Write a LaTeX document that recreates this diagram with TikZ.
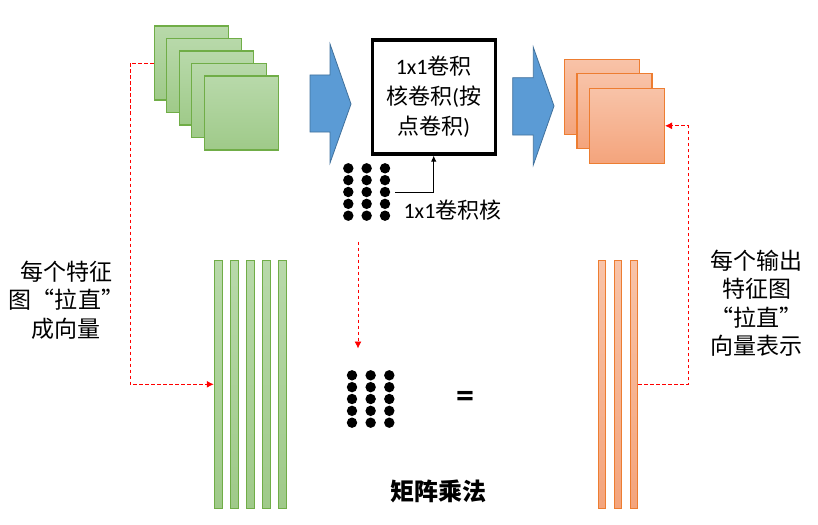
\documentclass[tikz,border=0pt]{standalone}
\usepackage{fontspec}
\setmainfont{Carlito}
\newfontfamily\cjk{Noto Sans CJK SC}
\usetikzlibrary{arrows.meta}
\definecolor{gtop}{HTML}{B8D9AA}
\definecolor{gbot}{HTML}{9FCA89}
\definecolor{gline}{HTML}{70AD47}
\definecolor{otop}{HTML}{F8C3A8}
\definecolor{obot}{HTML}{F4A47C}
\definecolor{oline}{HTML}{ED7D31}
\definecolor{bfill}{HTML}{5B9BD5}
\definecolor{bline}{HTML}{41719C}
\tikzset{
  gsq/.style={draw=gline, line width=1.1pt, top color=gtop, bottom color=gbot, minimum width=74.5pt, minimum height=74pt, inner sep=0pt},
  osq/.style={draw=oline, line width=1.1pt, top color=otop, bottom color=obot, minimum width=75pt, minimum height=75pt, inner sep=0pt},
  gbar/.style={draw=gline, line width=1.1pt, top color=gtop, bottom color=gbot, minimum width=8pt, minimum height=248pt, inner sep=0pt},
  obar/.style={draw=oline, line width=1.1pt, top color=otop, bottom color=obot, minimum width=7.4pt, minimum height=248pt, inner sep=0pt},
  bigarrow/.style={draw=bline, line width=0.8pt, fill=bfill},
  reddash/.style={draw=red, line width=0.9pt, dash pattern=on 3.5pt off 2.5pt, -{Latex[length=7pt,width=7pt]}},
  label/.style={align=center, inner sep=0pt, font=\cjk\fontsize{23}{28.5}\selectfont},
}
\begin{document}
\begin{tikzpicture}[x=1pt,y=-1pt]
\useasboundingbox[fill=white] (0,0) rectangle (818,524);

% green feature maps
\foreach \k in {1,...,5}{
  \node[gsq] (gsq\k) at ({191.5+12.5*(\k-1)},{63+12.5*(\k-1)}) {};
}
% blue arrows
\draw[bigarrow] (310,75) -- (330,75) -- (330,44) -- (351,104) -- (330,163) -- (330,132) -- (310,132) -- cycle;
\draw[bigarrow] (512.7,77.7) -- (533.3,77.7) -- (533.3,47.3) -- (554,106) -- (533.3,165) -- (533.3,135) -- (512.7,135) -- cycle;

% conv box
\node[draw=black, line width=3.2pt, minimum width=123pt, minimum height=114pt, align=center, inner sep=0pt,
      font=\fontsize{22}{30}\selectfont] (box) at (433.7,97)
  {1x1{\cjk 卷积}\\{\cjk 核卷积}({\cjk 按}\\{\cjk 点卷积})};

% orange output maps
\foreach \k in {1,2,3}{
  \node[osq] (osq\k) at ({602+12.5*(\k-1)},{96.8+14.5*(\k-1)}) {};
}

% kernel dots (top)
\node[minimum width=47pt, minimum height=58pt, inner sep=0pt] (kdots) at (371.7,192) {};
\foreach \i in {0,1,2}{
  \foreach \j in {0,...,4}{
    \fill[black] ({348.3+18.35*\i},{168.3+11.85*\j}) circle (5.2);
  }
}
\draw[line width=1pt, -{Latex[length=6pt,width=5.5pt]}] (kdots.east) -| (box.south);
\node[font=\fontsize{22}{26}\selectfont, inner sep=0pt] (klabel) at (452.5,210) {1x1{\cjk 卷积核}};

% green vectors
\foreach \k in {1,...,5}{
  \node[gbar] (gbar\k) at ({218.3+16*(\k-1)},384.3) {};
}
% orange vectors
\foreach \k in {1,2,3}{
  \node[obar] (obar\k) at ({602+16*(\k-1)},384.3) {};
}

% kernel dots (matrix)
\node[minimum width=47pt, minimum height=58pt, inner sep=0pt] (mdots) at (370.6,399) {};
\foreach \i in {0,1,2}{
  \foreach \j in {0,...,4}{
    \fill[black] ({352+18.65*\i},{375.3+11.85*\j}) circle (5.2);
  }
}
\node[font=\bfseries\fontsize{36}{36}\selectfont, inner sep=0pt] (eq) at (465,399) {=};

% dashed connectors
\draw[reddash] (gsq1.west) -- ++(-23.5,0) |- (gbar1.west);
\coordinate (rcol) at (688.3,0);
\draw[reddash] (obar3.east) -- (obar3.east -| rcol) |- (osq3.east);
\coordinate (mtop) at (358,241.7);
\coordinate (mbot) at (358,348.5);
\draw[reddash] (mtop) -- (mbot);

% labels
\node[label] (llabel) at (66.5,300) {每个特征\\图“拉直”\\成向量};
\node[label] (rlabel) at (756.7,303) {每个输出\\特征图\\“拉直”\\向量表示};
\node[font=\cjk\bfseries\fontsize{24}{24}\selectfont, inner sep=0pt] (mm) at (438.3,491.7) {矩阵乘法};
\end{tikzpicture}
\end{document}
